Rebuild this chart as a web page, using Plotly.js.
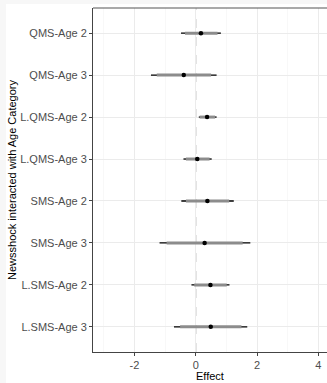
<!DOCTYPE html>
<html><head><meta charset="utf-8">
<script src="https://cdn.plot.ly/plotly-3.0.1.min.js"></script>
<style>
html,body{margin:0;padding:0;background:#f7f7f7;width:327px;height:383px;overflow:hidden;}
#plot{position:absolute;left:6px;top:4px;width:321px;height:379px;}
</style></head><body>
<div id="plot"></div>
<script>
const categories = ["QMS-Age 2","QMS-Age 3","L.QMS-Age 2","L.QMS-Age 3","SMS-Age 2","SMS-Age 3","L.SMS-Age 2","L.SMS-Age 3"];
const estimate  = [0.17, -0.39, 0.37, 0.05, 0.38, 0.29, 0.48, 0.49];
const outerLow  = [-0.48, -1.46, 0.10, -0.40, -0.47, -1.18, -0.14, -0.71];
const outerHigh = [0.82, 0.68, 0.68, 0.52, 1.24, 1.78, 1.10, 1.68];
const innerLow  = [-0.35, -1.27, 0.13, -0.32, -0.32, -0.95, -0.05, -0.51];
const innerHigh = [0.71, 0.50, 0.63, 0.45, 1.09, 1.53, 1.01, 1.49];
const xTicks = [-2, 0, 2, 4];

const minus = (a, b) => a.map((v, i) => v - b[i]);

const traces = [
  {
    type: 'scatter', mode: 'markers', x: estimate, y: categories,
    marker: {size: 1, color: 'rgba(0,0,0,0)'},
    error_x: {type: 'data', symmetric: false,
      array: minus(outerHigh, estimate), arrayminus: minus(estimate, outerLow),
      width: 0, thickness: 1.3, color: '#000000'},
    hoverinfo: 'skip', showlegend: false
  },
  {
    type: 'scatter', mode: 'markers', x: estimate, y: categories,
    marker: {size: 4.5, color: '#000000', symbol: 'circle'},
    error_x: {type: 'data', symmetric: false,
      array: minus(innerHigh, estimate), arrayminus: minus(estimate, innerLow),
      width: 0, thickness: 3, color: '#8c8c8c'},
    showlegend: false
  }
];

const layout = {
  width: 321, height: 379,
  margin: {l: 87, r: 0, t: 4, b: 31},
  paper_bgcolor: '#ffffff', plot_bgcolor: '#ffffff',
  font: {family: 'Liberation Sans, Arial, sans-serif', size: 11, color: '#4d4d4d'},
  showlegend: false,
  xaxis: {
    range: [-3.35, 4.28],
    tickvals: xTicks, ticktext: xTicks.map(String),
    showgrid: true, gridcolor: '#ebebeb', gridwidth: 1,
    minor: {tickvals: [-3, -1, 1, 3], showgrid: true, gridcolor: '#f3f3f3', gridwidth: 0.6, ticks: ''},
    zeroline: false,
    showline: true, linecolor: '#444444', linewidth: 1,
    ticks: 'outside', ticklen: 3, tickcolor: '#444444', tickwidth: 1,
    tickfont: {size: 11, color: '#4d4d4d'},
    fixedrange: true
  },
  yaxis: {
    type: 'category', categoryorder: 'array', categoryarray: categories,
    range: [7.6, -0.6],
    showgrid: true, gridcolor: '#ebebeb', gridwidth: 1,
    zeroline: false,
    showline: true, linecolor: '#444444', linewidth: 1,
    ticks: 'outside', ticklen: 3, tickcolor: '#444444', tickwidth: 1,
    tickfont: {size: 11, color: '#4d4d4d'},
    title: {text: 'Newsshock interacted with Age Category', font: {size: 11, color: '#000000'}, standoff: 5},
    fixedrange: true
  },
  annotations: [
    {text: 'Effect', xref: 'paper', yref: 'paper', x: 0.5, y: 0, xanchor: 'center', yanchor: 'top',
     yshift: -16, showarrow: false, font: {size: 11, color: '#000000'}}
  ],
  shapes: [
    {type: 'line', xref: 'x', yref: 'paper', x0: 0, x1: 0, y0: 0, y1: 1,
     line: {color: '#8a8a8a', width: 1, dash: 'dash'}, layer: 'below'},
    {type: 'line', xref: 'paper', yref: 'paper', x0: 0, x1: 1, y0: 1, y1: 1,
     line: {color: '#555555', width: 1.2}}
  ]
};

Plotly.newPlot('plot', traces, layout, {displayModeBar: false, staticPlot: true});
</script>
</body></html>
